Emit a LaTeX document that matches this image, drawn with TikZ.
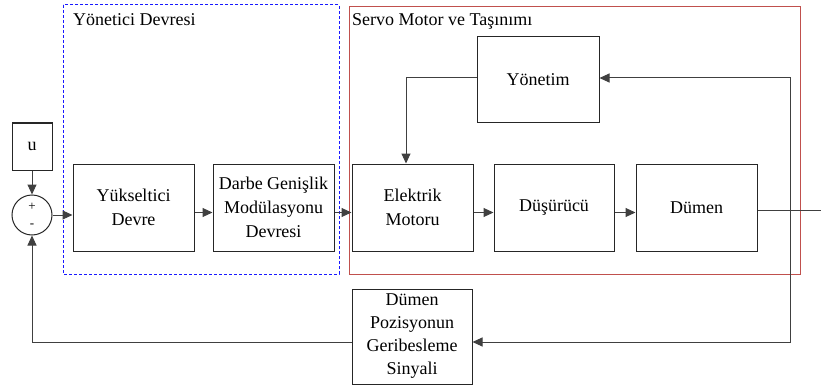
\documentclass[tikz,border=0pt]{standalone}
\usepackage{fontspec}
\setmainfont{Liberation Serif}
\usetikzlibrary{arrows.meta}
\begin{document}
\begin{tikzpicture}[x=1pt,y=-1pt,
  font=\rmfamily\fontsize{18}{24}\selectfont,
  blk/.style={draw=black!85, line width=1pt, fill=white, inner sep=2pt,
    align=center, minimum width=#1, anchor=center},
  blk/.default=121pt,
  conn/.style={draw=black!75, line width=1pt},
  arr/.style={conn, -{Triangle[length=10pt,width=9pt]}},
  grp/.style={line width=1pt}]
\useasboundingbox (0,0) rectangle (821,385);

% group frames
\draw[grp, draw=blue!90, dashed, dash pattern=on 3pt off 2pt] (63,5) rectangle (339,274);
\draw[grp, draw={rgb,255:red,192;green,80;blue,77}] (349,7) rectangle (800,274);
\node[anchor=base west, inner sep=0] (ttlA) at (73,26) {Yönetici Devresi};
\node[anchor=base west, inner sep=0] (ttlB) at (352,26) {Servo Motor ve Taşınımı};

% blocks
\node[blk=40pt, minimum height=47pt] (u) at (32,146.5) {u};
\node[draw=black!85, line width=1pt, circle, minimum size=40pt, inner sep=0] (sum) at (32,215) {};
\node[font=\rmfamily\fontsize{13}{13}\selectfont, inner sep=0] (plus) at (32,207) {+};
\node[font=\rmfamily\fontsize{13}{13}\selectfont, inner sep=0] (minus) at (32,226) {-};

\node[blk, minimum height=87pt] (yuk) at (133.5,207.5) {Yükseltici\\Devre};
\node[blk, minimum height=87pt] (darbe) at (273.5,207.5) {Darbe Genişlik\\Modülasyonu\\Devresi};
\node[blk, minimum height=87pt] (elek) at (412.5,207.5) {Elektrik\\Motoru};
\node[blk=120pt, minimum height=87pt] (dusur) at (554,207.5) {Düşürücü};
\node[blk, minimum height=87pt] (dumen) at (696.5,207.5) {Dümen};
\node[blk=122pt, minimum height=86pt] (yon) at (538,80) {Yönetim};
\node[blk=120pt, minimum height=95pt, inner sep=0pt] (geri) at (412,336.5)
  {Dümen\\[-1pt]Pozisyonun\\[-1pt]Geribesleme\\[-1pt]Sinyali};

% helper points
\coordinate (mid) at (0,212.5);
\coordinate (tap) at (790,212);
\coordinate (outend) at (821,210);

% connectors
\draw[arr] (u) -- (sum);
\draw[arr] (sum.east) -- (sum.east -| yuk.west);
\draw[arr] (yuk.east |- mid) -- (darbe.west |- mid);
\draw[arr] (darbe.east |- mid) -- (elek.west |- mid);
\draw[arr] (elek.east |- mid) -- (dusur.west |- mid);
\draw[arr] (dusur.east |- mid) -- (dumen.west |- mid);
\draw[conn] (dumen.east |- outend) -- (outend);
\draw[arr] (tap) |- ([yshift=2pt]yon.east);
\draw[arr] (tap) |- ([yshift=-5.5pt]geri.east);
\draw[arr] ([yshift=2pt]yon.west) -| ([xshift=-6.5pt]elek.north);
\draw[arr] ([yshift=-5.5pt]geri.west) -| (sum.south);
\end{tikzpicture}
\end{document}
